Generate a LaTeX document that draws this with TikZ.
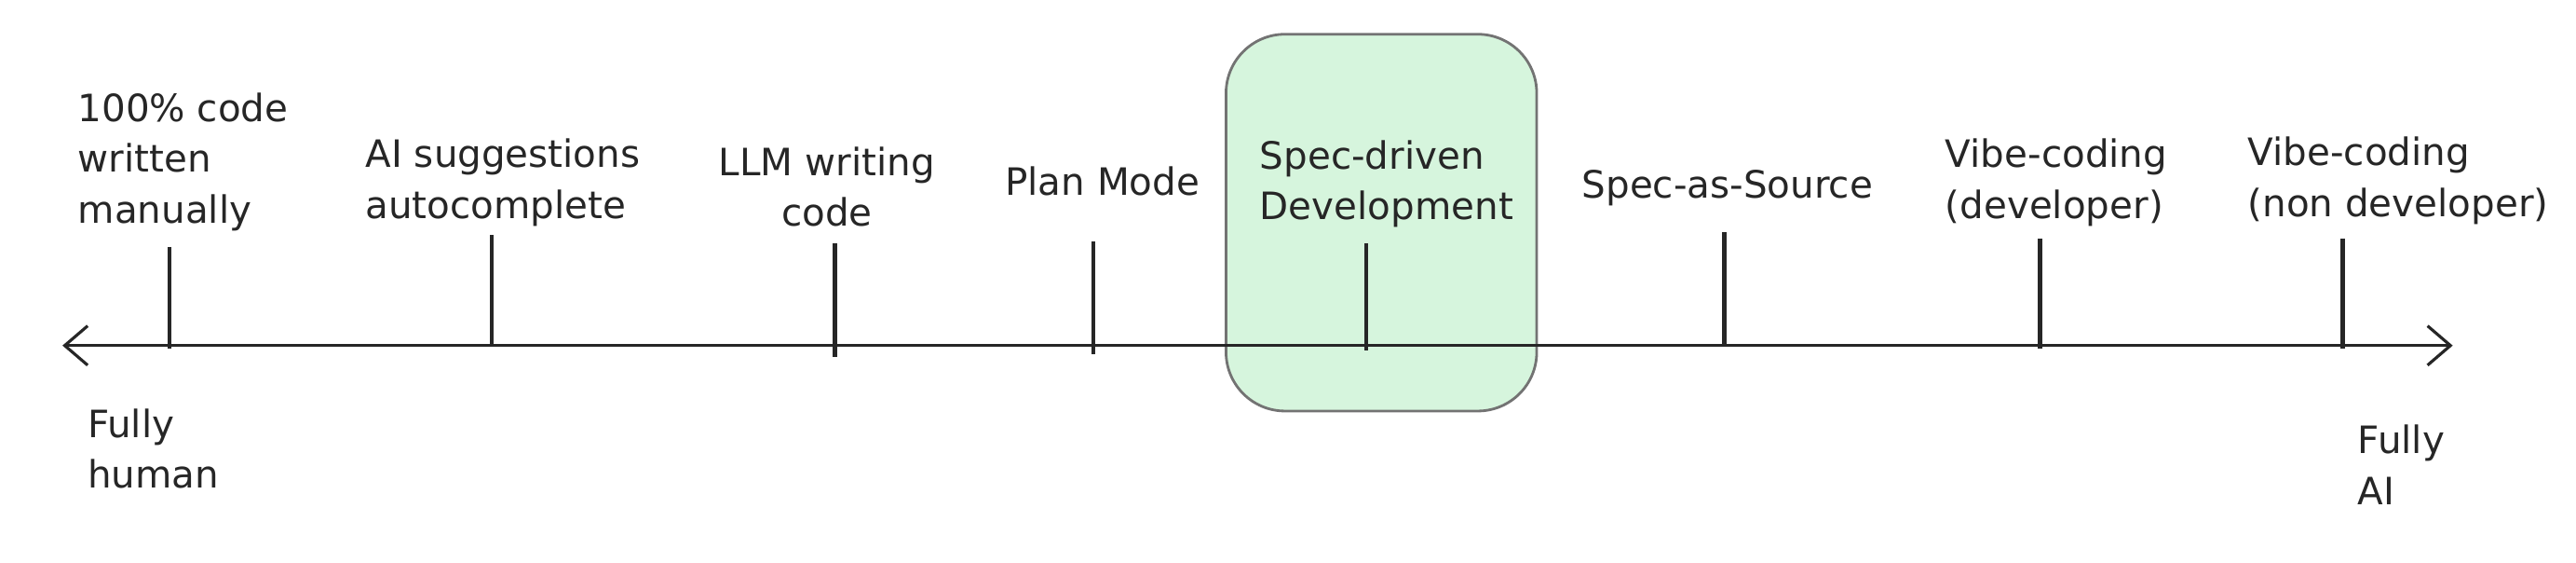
\documentclass[tikz,border=0pt]{standalone}
\usepackage{fontspec}
\setmainfont{DejaVu Sans}
\usetikzlibrary{arrows.meta}
\definecolor{mint}{RGB}{214,245,221}
\begin{document}
\begin{tikzpicture}[x=0.01766cm,y=-0.01766cm,
  lbl/.style={font=\fontsize{11.5}{15.5}\selectfont,align=left,inner sep=0pt,text=black!85},
  tick/.style={line width=1.3pt,black!85},
  axis/.style={line width=0.9pt,black!85,{Straight Barb[length=7pt,width=12pt]}-{Straight Barb[length=7pt,width=12pt]}}]
\useasboundingbox (0,0) rectangle (1567,342);
\node[draw=black!55,fill=mint,rounded corners=18pt,line width=0.8pt,minimum width=189*0.01766cm,minimum height=229*0.01766cm,anchor=north west] (box) at (745,20) {};
\coordinate (L) at (38,210);
\coordinate (R) at (1492,210);
\draw[axis] (L) -- (R);
\foreach \n/\x/\t/\b in {a/103/150/212,b/299/143/210,c/508/148/217,d/665/147/215,e/831/148/213,f/1049/141/209,g/1241/145/212,h/1425/145/212}{
  \coordinate (\n1) at (\x,\t); \coordinate (\n2) at (\x,\b);
  \draw[tick] (\n1) -- (\n2);}
\node[lbl,anchor=north west] (t1) at (47,56) {100\% code\\written\\manually};
\node[lbl,anchor=north west] (t2) at (222,84) {AI suggestions\\autocomplete};
\node[lbl,align=center,anchor=north] (t3) at (503,89) {LLM writing\\code};
\node[lbl,anchor=north west] (t4) at (611,101) {Plan Mode};
\node[lbl,anchor=north west] (t5) at (766,85) {Spec-driven\\Development};
\node[lbl,anchor=north west] (t6) at (962,103) {Spec-as-Source};
\node[lbl,anchor=north west] (t7) at (1183,84) {Vibe-coding\\(developer)};
\node[lbl,anchor=north west] (t8) at (1367,83) {Vibe-coding\\(non developer)};
\node[lbl,anchor=north west] (t9) at (53,248) {Fully\\human};
\node[lbl,anchor=north west] (t10) at (1434,258) {Fully\\AI};
\end{tikzpicture}
\end{document}
